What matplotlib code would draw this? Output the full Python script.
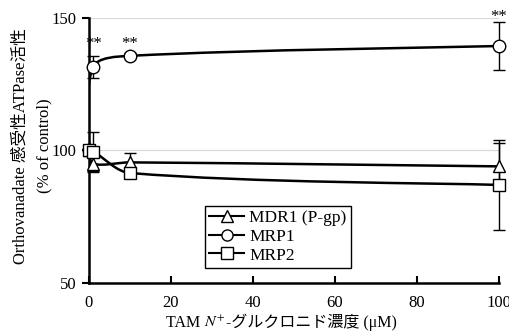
import matplotlib
matplotlib.use("Agg")
import matplotlib.pyplot as plt
import numpy as np
from matplotlib.lines import Line2D
from matplotlib.path import Path
from matplotlib.patches import PathPatch

plt.rcParams["font.family"] = ["Liberation Serif", "Noto Sans CJK JP"]
plt.rcParams["mathtext.fontset"] = "stix"
plt.rcParams["font.size"] = 12

conc = [0, 1, 10, 100]
mdr1 = [100, 95, 95.5, 94]
mdr1_err = [0, 3, 3.5, 9]
mrp1 = [100, 131.5, 135.7, 139.4]
mrp1_err = [0, 4, 1, 9]
mrp2 = [100, 99.6, 91.5, 87]
mrp2_err = [0, 7.5, 1.5, 17]
star_x = [1, 10, 100]
star_y = [140.0, 140.0, 150.5]

series = [
    ("MDR1 (P-gp)", mdr1, mdr1_err, "^"),
    ("MRP1", mrp1, mrp1_err, "o"),
    ("MRP2", mrp2, mrp2_err, "s"),
]


def smooth_path(xs, ys, sx=4.1, sy=2.65):
    """Bezier path through the points, smoothed in screen-like space."""
    p = np.column_stack([np.asarray(xs, float) * sx, np.asarray(ys, float) * sy])
    n = len(p)
    tang = []
    for i in range(n):
        a = p[i - 1] if i > 0 else p[i]
        b = p[i + 1] if i + 1 < n else p[i]
        tang.append(b - a)
    seg = [np.linalg.norm(p[i + 1] - p[i]) for i in range(n - 1)]
    verts = [p[0]]
    codes = [Path.MOVETO]
    for i in range(n - 1):
        d0 = seg[i - 1] if i > 0 else seg[i]
        d2 = seg[i + 1] if i + 1 < n - 1 else seg[i]
        d1 = seg[i]
        c1 = p[i] + tang[i] * d1 / (d0 + d1) / 3
        c2 = p[i + 1] - tang[i + 1] * d1 / (d1 + d2) / 3
        verts += [c1, c2, p[i + 1]]
        codes += [Path.CURVE4] * 3
    verts = np.array(verts) / [sx, sy]
    return Path(verts, codes)


fig, ax = plt.subplots(figsize=(5.1, 3.32), dpi=100)
fig.subplots_adjust(left=0.1745, right=0.978, top=0.946, bottom=0.1476)

ax.set_xlim(0, 100)
ax.set_ylim(50, 150)
ax.set_yticks([50, 100, 150])
ax.set_xticks(range(0, 101, 20))
ax.yaxis.grid(True, color="#d9d9d9", linewidth=0.9)
ax.set_axisbelow(True)

for name, vals, err, mk in series:
    ax.errorbar(conc, vals, yerr=err, fmt="none", ecolor="black",
                elinewidth=1, capsize=4, capthick=1, zorder=3, clip_on=False)
    ax.add_patch(PathPatch(smooth_path(conc, vals), facecolor="none",
                           edgecolor="black", linewidth=1.8, zorder=4))
    ax.plot(conc, vals, linestyle="none", marker=mk, markersize=9,
            markerfacecolor="white", markeredgecolor="black",
            markeredgewidth=1, zorder=5, clip_on=False)

for x, y in zip(star_x, star_y):
    ax.text(x, y, "**", ha="center", va="center", fontsize=12,
            clip_on=False)

for side in ["top", "right"]:
    ax.spines[side].set_visible(False)
for side in ["left", "bottom"]:
    ax.spines[side].set_linewidth(1.8)

ax.tick_params(axis="y", direction="out", length=5, width=1.5, pad=4)
ax.tick_params(axis="x", direction="in", length=5, width=1.5, pad=9)

handles = [
    Line2D([], [], color="black", linewidth=1.5, marker=mk, markersize=8,
           markerfacecolor="white", markeredgecolor="black",
           markeredgewidth=1)
    for _, _, _, mk in series
]
leg = ax.legend(handles, [s[0] for s in series], loc="lower left",
                bbox_to_anchor=(0.283, 0.057), borderaxespad=0,
                frameon=True, fancybox=False, edgecolor="black",
                framealpha=1, handlelength=2.0, handletextpad=0.3,
                labelspacing=0.15, borderpad=0.25, fontsize=12.5)
leg.get_frame().set_linewidth(1)

fig.text(0.04, 0.56, "Orthovanadate 感受性ATPase活性", rotation=90,
         ha="center", va="center", fontsize=12)
fig.text(0.088, 0.56, "(% of control)", rotation=90, ha="center",
         va="center", fontsize=12)

# x label: plain text and mathtext pieces placed side by side
xlabel_parts = ["TAM ", "$N^{+}$", "-グルクロニド濃度 (μM)"]
renderer = fig.canvas.get_renderer()
pieces = [fig.text(0, 0.004, s, ha="left", va="bottom", fontsize=11.5)
          for s in xlabel_parts]
widths = [t.get_window_extent(renderer).width for t in pieces]
x0 = 0.552 * fig.bbox.width - sum(widths) / 2
for t, w in zip(pieces, widths):
    t.set_x(x0 / fig.bbox.width)
    x0 += w

fig.savefig("out.png", dpi=100)
